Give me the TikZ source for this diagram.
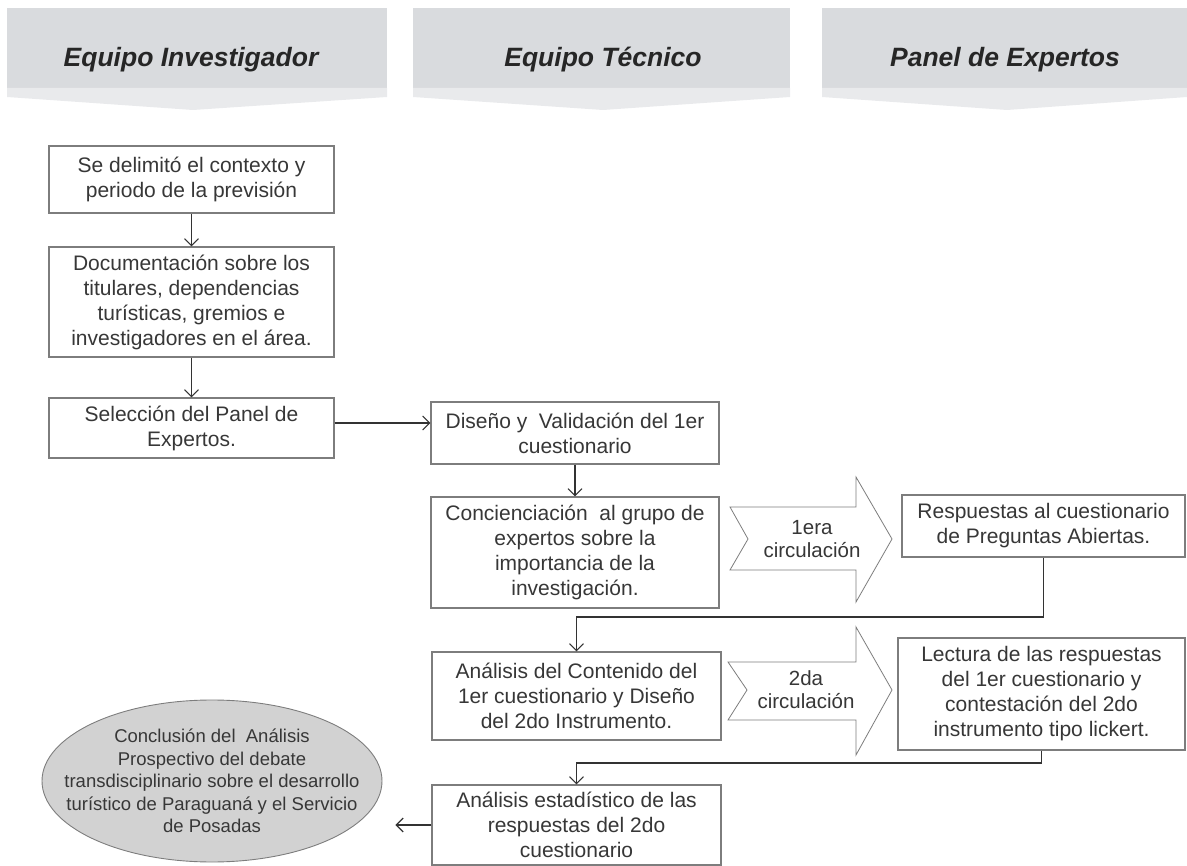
\documentclass[tikz,border=0pt]{standalone}
\usepackage{fontspec}
\setmainfont{Liberation Sans}
\usetikzlibrary{arrows.meta,shapes.geometric}
\definecolor{hdr}{RGB}{217,219,222}
\definecolor{hdrlight}{RGB}{233,234,236}
\definecolor{boxline}{RGB}{125,125,125}
\definecolor{txt}{RGB}{55,55,55}
\definecolor{ellfill}{RGB}{210,210,210}
\begin{document}
\begin{tikzpicture}[x=1pt,y=-1pt,
  box/.style={draw=boxline, line width=1.1pt, fill=white, align=center, inner sep=0pt,
    text=txt, font=\fontsize{21}{25}\selectfont},
  hdrtext/.style={font=\fontsize{26.5}{30}\selectfont\bfseries\itshape, text=black!85},
  arr/.style={draw=black!80, line width=1.1pt, -{Straight Barb[length=7pt,width=14pt]}},
  chev/.style={draw=boxline, line width=0.8pt, fill=white},
  chevtext/.style={align=center, text=txt, font=\fontsize{20.5}{23}\selectfont}
]
\useasboundingbox (0,0) rectangle (1187,866);

% headers
\fill[hdr] (7,8) -- (387,8) -- (387,88) -- (7,88) -- cycle;
\fill[hdrlight] (7,88) -- (387,88) -- (387,97) -- (193,110) -- (7,97) -- cycle;
\node[hdrtext] (h1) at (191,60) {Equipo Investigador};
\fill[hdr] (413,8) -- (790,8) -- (790,88) -- (413,88) -- cycle;
\fill[hdrlight] (413,88) -- (790,88) -- (790,97) -- (603,110) -- (413,97) -- cycle;
\node[hdrtext] (h2) at (603,60) {Equipo Técnico};
\fill[hdr] (822,8) -- (1187,8) -- (1187,88) -- (822,88) -- cycle;
\fill[hdrlight] (822,88) -- (1187,88) -- (1187,97) -- (1007,110) -- (822,97) -- cycle;
\node[hdrtext] (h3) at (1005,60) {Panel de Expertos};

% boxes
\node[box, minimum width=285pt, minimum height=67pt] (b1) at (191.5,179.5)
  {Se delimitó el contexto y\\periodo de la previsión};
\node[box, minimum width=285pt, minimum height=110pt] (b2) at (191.5,302)
  {Documentación sobre los\\titulares, dependencias\\turísticas, gremios e\\investigadores en el área.};
\node[box, minimum width=285pt, minimum height=60pt] (b3) at (191.5,428)
  {Selección del Panel de\\Expertos.};
\node[box, minimum width=288pt, minimum height=62pt] (b4) at (575,433)
  {Diseño y\ \ Validación del 1er\\cuestionario};
\node[box, minimum width=288pt, minimum height=111pt] (b5) at (575,552.5)
  {Concienciación\ \ al grupo de\\expertos sobre la\\importancia de la\\investigación.};
\node[box, minimum width=283pt, minimum height=62pt] (b6) at (1043.5,526)
  {Respuestas al cuestionario\\de Preguntas Abiertas.};
\node[box, minimum width=289pt, minimum height=88pt] (b7) at (576.5,696)
  {Análisis del Contenido del\\1er cuestionario y Diseño\\del 2do Instrumento.};
\node[box, minimum width=287pt, minimum height=112pt] (b8) at (1041.5,694)
  {Lectura de las respuestas\\del 1er cuestionario y\\contestación del 2do\\instrumento tipo lickert.};
\node[box, minimum width=289pt, minimum height=80pt] (b9) at (576.5,825)
  {Análisis estadístico de las\\respuestas del 2do\\cuestionario};
\node[ellipse, draw=boxline, line width=0.9pt, fill=ellfill, minimum width=340pt, minimum height=162pt,
  inner sep=0pt] (e1) at (212,781) {};
\node[align=center, text=txt, font=\fontsize{18.5}{22.5}\selectfont] (e1t) at (e1.center)
  {Conclusión del\ \ Análisis\\Prospectivo del debate\\transdisciplinario sobre el desarrollo\\turístico de Paraguaná y el Servicio\\de Posadas};

% chevrons
\draw[chev] (730,507) -- (856,507) -- (856,477) -- (892,539) -- (856,602) -- (856,570) -- (730,570) -- (748,539) -- cycle;
\node[chevtext] (c1) at (812,539) {1era\\circulación};
\draw[chev] (728,662) -- (856,662) -- (856,627) -- (892,690) -- (856,755) -- (856,720) -- (728,720) -- (747,690) -- cycle;
\node[chevtext] (c2) at (806,690) {2da\\circulación};

% connectors
\draw[arr] (b1) -- (b2);
\draw[arr] (b2) -- (b3);
\draw[arr] (b3.east |- 0,423) -- (b4.west |- 0,423);
\draw[arr] (b4) -- (b5);
\draw[arr] (b6.south) -- (b6.south |- 0,617) -| (b7.north);
\draw[arr] (b8.south) -- (b8.south |- 0,763) -| (b9.north);
\draw[arr, shorten >=13pt] (b9.west) -- (e1.east |- b9.west);
\end{tikzpicture}
\end{document}
